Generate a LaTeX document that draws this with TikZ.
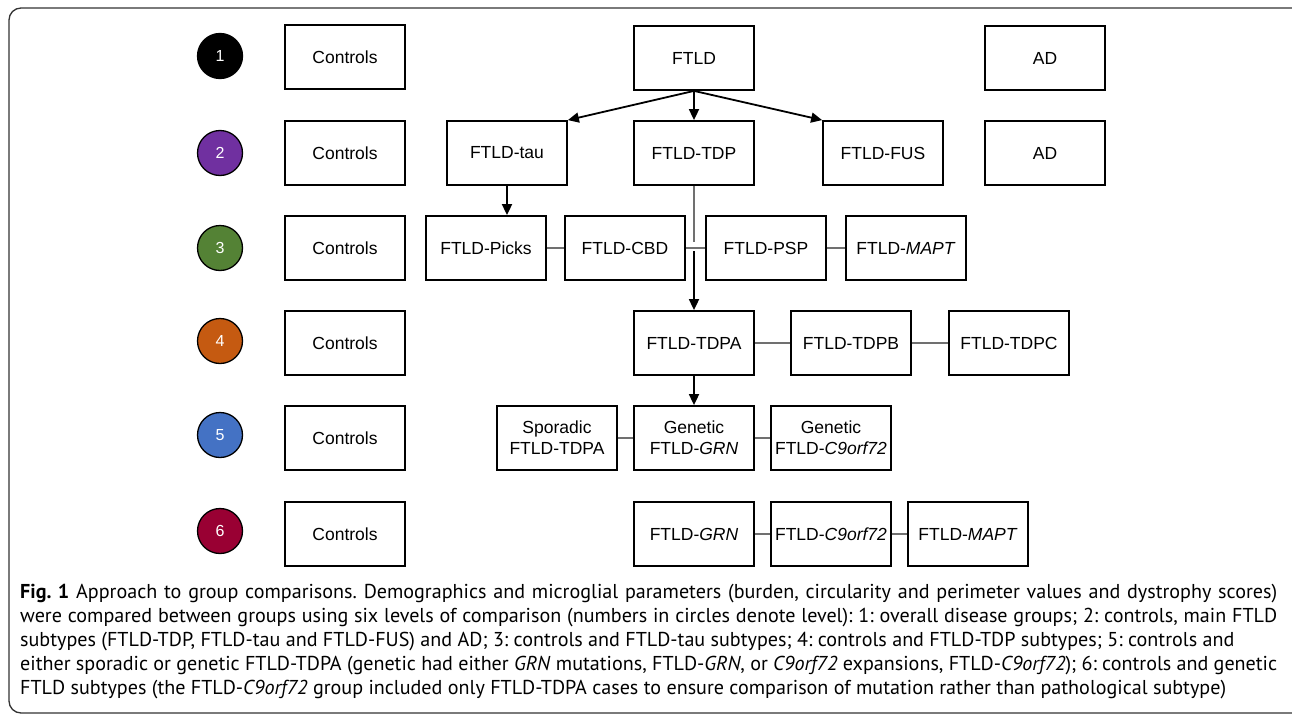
\documentclass[tikz,border=0pt]{standalone}
\usepackage{fontspec}
\setmainfont{Liberation Sans}
\newfontfamily\capfont{PT Sans}
\usetikzlibrary{arrows.meta}
\definecolor{cpurple}{HTML}{7030A0}
\definecolor{cgreen}{HTML}{548235}
\definecolor{corange}{HTML}{C55A11}
\definecolor{cblue}{HTML}{4472C4}
\definecolor{cred}{HTML}{990033}
\definecolor{frameC}{HTML}{333333}
\definecolor{linkC}{HTML}{707070}
\newcommand{\fullline}[1]{\makebox[1257pt][s]{#1}}
\frenchspacing
\begin{document}
\begin{tikzpicture}[x=1pt,y=-1pt,
  box/.style={draw=black, line width=1.8pt, minimum width=120pt, minimum height=64pt, inner sep=0pt, font=\fontsize{17.5}{21}\selectfont, align=center},
  lvl/.style={circle, draw=black, line width=1.3pt, minimum size=45pt, inner sep=0pt, text=white, font=\fontsize{16}{18}\selectfont},
  arr/.style={draw=black, line width=1.8pt, -{Triangle[length=11pt,width=10pt]}},
  link/.style={draw=linkC, line width=1.2pt},
  capline/.style={anchor=base west, inner sep=0pt, font=\capfont\fontsize{20.1}{24}\selectfont\frenchspacing}
]
\useasboundingbox (0,0) rectangle (1292,717);
\clip (0,0) rectangle (1292,717);
\fill[white] (0,0) rectangle (1292,717);
\draw[line width=1.3pt, draw=frameC, rounded corners=12pt] (9,8) rectangle (1310,713);

% level circles
\node[lvl, fill=black]   (c1) at (220,56)  {1};
\node[lvl, fill=cpurple] (c2) at (220,153) {2};
\node[lvl, fill=cgreen]  (c3) at (220,248) {3};
\node[lvl, fill=corange] (c4) at (220,341) {4};
\node[lvl, fill=cblue]   (c5) at (220,435) {5};
\node[lvl, fill=cred]    (c6) at (220,531) {6};

% controls
\node[box] (k1) at (345,57)  {Controls};
\node[box] (k2) at (345,153) {Controls};
\node[box] (k3) at (345,248) {Controls};
\node[box] (k4) at (345,343) {Controls};
\node[box] (k5) at (345,438) {Controls};
\node[box] (k6) at (345,534) {Controls};

% row 1
\node[box] (ftld) at (694,58)  {FTLD};
\node[box] (ad1)  at (1045,58) {AD};
% row 2
\node[box] (tau) at (507,153)  {FTLD-tau};
\node[box] (tdp) at (694,153)  {FTLD-TDP};
\node[box] (fus) at (883,153)  {FTLD-FUS};
\node[box] (ad2) at (1045,153) {AD};
% row 3
\node[box] (picks) at (486,248) {FTLD-Picks};
\node[box] (cbd)   at (625,248) {FTLD-CBD};
\node[box] (psp)   at (766,248) {FTLD-PSP};
\node[box] (mapt)  at (906,248) {FTLD-\textit{MAPT}};
% row 4
\node[box] (tdpa) at (694,343)  {FTLD-TDPA};
\node[box] (tdpb) at (851,343)  {FTLD-TDPB};
\node[box] (tdpc) at (1009,343) {FTLD-TDPC};
% row 5
\node[box] (spor) at (557,438) {Sporadic\\FTLD-TDPA};
\node[box] (ggrn) at (694,438) {Genetic\\FTLD-\textit{GRN}};
\node[box] (gc9)  at (831,438) {Genetic\\FTLD-\textit{C9orf72}};
% row 6
\node[box] (grn6)  at (694,534) {FTLD-\textit{GRN}};
\node[box] (c96)   at (831,534) {FTLD-\textit{C9orf72}};
\node[box] (mapt6) at (968,534) {FTLD-\textit{MAPT}};

% arrows
\draw[arr] (ftld.south) -- (tau.north east);
\draw[arr] (ftld.south) -- (tdp.north);
\draw[arr] (ftld.south) -- (fus.north west);
\draw[arr] (tau.south) -- (tau.south |- picks.north);
\coordinate (jt) at (694,242);
\coordinate (jb) at (694,251);
\draw[link] (tdp.south) -- (jt);
\draw[arr] (jb) -- (tdpa.north);
\draw[arr] (tdpa.south) -- (ggrn.north);

% links
\draw[link] (picks.east) -- (cbd.west);
\draw[link] (cbd.east) -- (psp.west);
\draw[link] (psp.east) -- (mapt.west);
\draw[link] (tdpa.east) -- (tdpb.west);
\draw[link] (tdpb.east) -- (tdpc.west);
\draw[link] (spor.east) -- (ggrn.west);
\draw[link] (ggrn.east) -- (gc9.west);
\draw[link] (grn6.east) -- (c96.west);
\draw[link] (c96.east) -- (mapt6.west);

% caption
\node[capline] (cap1) at (20,598.5) {\fullline{\textbf{Fig. 1} Approach to group comparisons. Demographics and microglial parameters (burden, circularity and perimeter values and dystrophy scores)}};
\node[capline] (cap2) at (20,622.5) {\fullline{were compared between groups using six levels of comparison (numbers in circles denote level): 1: overall disease groups; 2: controls, main FTLD}};
\node[capline] (cap3) at (20,646.5) {subtypes (FTLD-TDP, FTLD-tau and FTLD-FUS) and AD; 3: controls and FTLD-tau subtypes; 4: controls and FTLD-TDP subtypes; 5: controls and};
\node[capline] (cap4) at (20,670.5) {\fullline{either sporadic or genetic FTLD-TDPA (genetic had either \textit{GRN} mutations, FTLD-\textit{GRN}, or \textit{C9orf72} expansions, FTLD-\textit{C9orf72}); 6: controls and genetic}};
\node[capline] (cap5) at (20,694.5) {FTLD subtypes (the FTLD-\textit{C9orf72} group included only FTLD-TDPA cases to ensure comparison of mutation rather than pathological subtype)};
\end{tikzpicture}
\end{document}
